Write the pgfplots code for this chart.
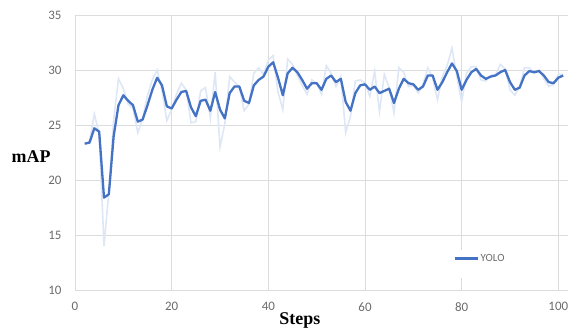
\documentclass[border=0pt]{standalone}
\usepackage{pgfplots}
\pgfplotsset{compat=1.18}
\usepackage{pgfplotstable}
\usepackage{fontspec}
\setmainfont{Liberation Serif}
\newfontfamily\carlito{Carlito}
\definecolor{yoloblue}{HTML}{4472C4}
\definecolor{rawblue}{HTML}{DEE7F6}
\definecolor{gridgray}{HTML}{DCDCDC}
\definecolor{tickgray}{HTML}{6B6B6B}

\pgfplotstableread{
x s r
2 23.3 23.3
3 23.4 23.5
4 24.7 26.0
5 24.4 24.2
6 18.4 14.0
7 18.7 18.9
8 24.0 25.5
9 26.8 29.2
10 27.7 28.3
11 27.2 26.9
12 26.8 26.5
13 25.3 24.3
14 25.5 25.6
15 26.8 27.7
16 28.2 29.1
17 29.3 30.0
18 28.6 28.1
19 26.7 25.4
20 26.5 26.4
21 27.3 27.8
22 28.0 28.8
23 28.1 28.2
24 26.6 25.2
25 25.8 25.3
26 27.2 28.1
27 27.3 28.4
28 26.3 25.6
29 28.0 29.8
30 26.4 23.0
31 25.6 25.1
32 27.9 29.4
33 28.5 28.9
34 28.5 28.5
35 27.2 26.3
36 27.0 26.9
37 28.6 29.7
38 29.1 30.2
39 29.4 29.6
40 30.3 30.9
41 30.7 31.3
42 29.3 28.0
43 27.7 26.4
44 29.7 31.0
45 30.2 30.5
46 29.8 29.5
47 29.1 28.6
48 28.3 27.8
49 28.8 29.1
50 28.8 28.8
51 28.2 27.8
52 29.2 30.4
53 29.5 29.7
54 28.9 28.5
55 29.2 29.4
56 27.1 24.3
57 26.3 25.8
58 27.9 29.0
59 28.6 29.1
60 28.7 28.8
61 28.2 27.6
62 28.5 29.9
63 27.9 26.2
64 28.1 29.6
65 28.3 28.4
66 27.0 26.1
67 28.3 30.2
68 29.2 29.8
69 28.8 28.5
70 28.7 28.6
71 28.2 27.9
72 28.5 28.7
73 29.5 30.2
74 29.5 29.3
75 28.2 27.3
76 28.9 29.4
77 29.8 30.4
78 30.6 32.0
79 29.9 29.4
80 28.2 27.1
81 29.1 29.7
82 29.8 30.3
83 30.1 30.3
84 29.5 29.1
85 29.2 29.0
86 29.4 29.5
87 29.5 29.6
88 29.8 30.5
89 30.0 30.1
90 28.9 28.2
91 28.2 27.7
92 28.4 28.5
93 29.5 30.2
94 29.9 30.2
95 29.8 29.7
96 29.9 30.0
97 29.5 29.2
98 28.9 28.5
99 28.8 28.7
100 29.3 29.6
101 29.5 29.6
}\yolodata

\begin{document}
\begin{tikzpicture}
\useasboundingbox (-75bp,-38bp) rectangle (498bp,290bp);
\begin{axis}[
  scale only axis, width=493bp, height=275bp,
  xmin=0, xmax=102, ymin=10, ymax=35,
  xtick={0,20,...,100}, ytick={10,15,...,35},
  grid=major, major grid style={gridgray, line width=0.9pt},
  axis line style={draw=none}, tick style={draw=none},
  ticklabel style={font=\carlito\fontsize{13}{15}\selectfont, text=tickgray},
  /pgf/number format/assume math mode=true,
  xticklabel style={yshift=-9bp},
  yticklabel style={xshift=-10bp},
  xlabel={Steps},
  xlabel style={at={(axis description cs:0.456,0)}, anchor=center, yshift=-30bp,
    font=\bfseries\fontsize{18}{20}\selectfont},
  ylabel={mAP},
  ylabel style={at={(axis description cs:-0.089,0.484)}, anchor=center, rotate=-90,
    font=\bfseries\fontsize{18}{20}\selectfont},
  legend style={at={(axis description cs:0.761,0.145)}, anchor=north west,
    draw=none, fill=white, font=\carlito\fontsize{11}{13}\selectfont,
    text=tickgray, row sep=6bp, inner xsep=3bp},
  legend cell align=left,
  legend image code/.code={\draw[#1] (0bp,0bp) -- (23bp,0bp);},
]
\addplot[rawblue, line width=1.6bp, forget plot] table[x=x, y=r] {\yolodata};
\addplot[yoloblue, line width=2.3bp, line join=round] table[x=x, y=s] {\yolodata};
\addlegendentry{YOLO}
\addlegendimage{empty legend}
\addlegendentry{\hspace{70bp}}
\end{axis}
\end{tikzpicture}
\end{document}
